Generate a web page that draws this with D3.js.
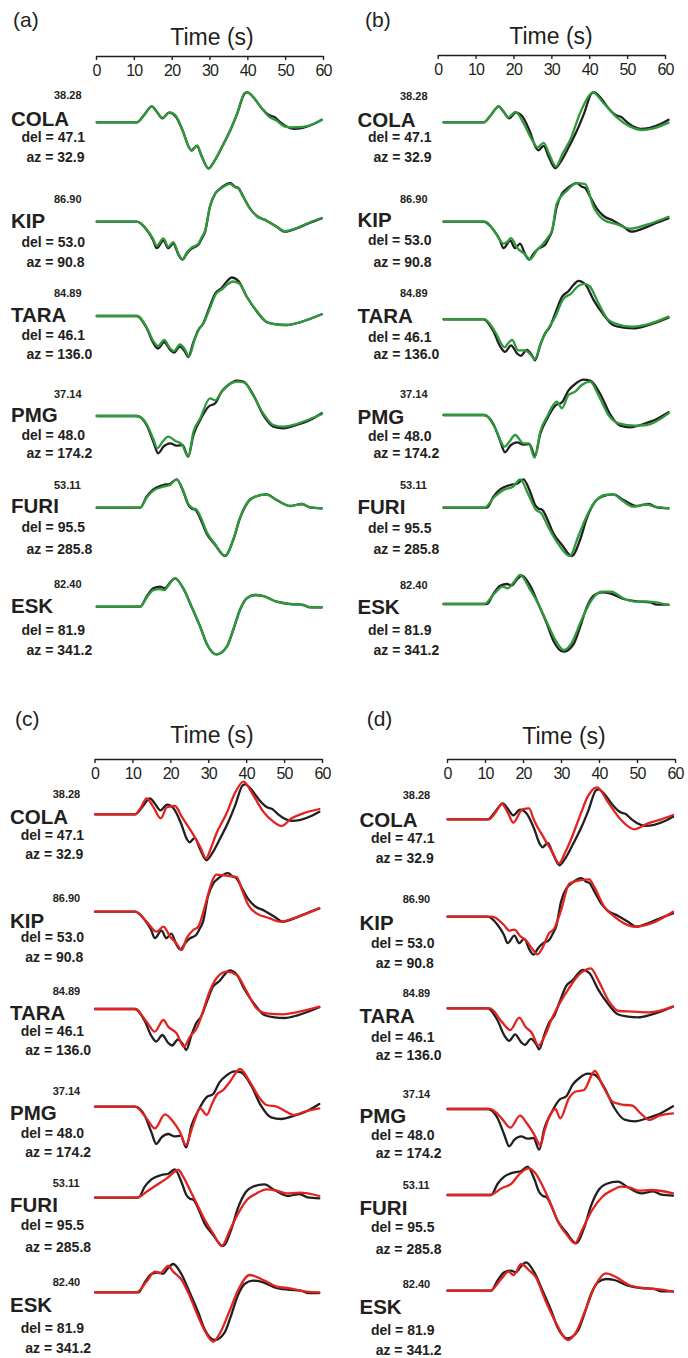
<!DOCTYPE html>
<html>
<head>
<meta charset="utf-8">
<script src="https://cdn.jsdelivr.net/npm/d3@7"></script>
<style>
  html, body { margin: 0; padding: 0; background: #fff; }
  svg { display: block; font-family: "Liberation Sans", Arial, Helvetica, sans-serif; }
</style>
</head>
<body>
<svg id="chart" width="688" height="1358"></svg>
<script>
// Station metadata
const stations  = ["COLA", "KIP", "TARA", "PMG", "FURI", "ESK"];
const peakAmps  = ["38.28", "86.90", "84.89", "37.14", "53.11", "82.40"];
const distances = ["47.1", "53.0", "46.1", "48.0", "95.5", "81.9"];
const azimuths  = ["32.9", "90.8", "136.0", "174.2", "285.8", "341.2"];
const timeTicks = [0, 10, 20, 30, 40, 50, 60];
const panelTags = ["(a)", "(b)", "(c)", "(d)"];

// Observed waveforms: [time (s), normalised amplitude]
const observed = [
  [[0,0],[10.7,0],[12.6,7],[14.7,16],[16,10.7],[17.5,4],[19.3,9.7],[21,6],[23,-9],[24.6,-25],[25.3,-28],[26.7,-23.5],[28,-34],[29.8,-46],[31.5,-38],[33.5,-24],[35.5,-9],[37.5,9],[39.5,29],[40.2,30],[42,24],[44,14],[46,7],[47.3,5.5],[49,0],[50.5,-4],[52.5,-6.5],[55,-5.5],[58,-1.5],[60,2.5]],
  [[0,0],[10.7,0],[13.3,-8],[15,-18],[16,-26.5],[17.8,-19],[19.1,-26.5],[20.4,-22],[21.8,-33],[22.9,-38],[24,-32],[25.3,-27],[27.1,-23],[28,-17],[28.9,-10],[30.2,15],[31.6,28],[32.9,33],[35.6,38.5],[36.9,35],[37.8,33.5],[39.1,25],[40.9,13],[42.7,5.7],[45.3,1],[48,-5],[50.2,-10],[53.3,-6.7],[56.9,-1],[60,3.3]],
  [[0,0],[10.7,0],[13.3,-12],[15.1,-27],[16.4,-32.5],[18,-26],[19.6,-34],[20.6,-36.5],[22.2,-30.5],[23.6,-36],[24.4,-41],[25.8,-26],[27.1,-14],[28.4,-7.5],[29.8,6],[31.6,22.5],[33.3,28],[34.7,34.5],[36,38.5],[37.8,35],[40,19.5],[42.7,4.5],[45.3,-6],[48,-8.3],[50.7,-9],[54.2,-6.3],[60,1.7]],
  [[0,0],[10.7,0],[13.3,-9],[15.1,-25.7],[16.4,-37.3],[17.8,-30.7],[19.6,-27.3],[21.3,-29.7],[22.9,-29],[24.4,-40.7],[25.8,-19],[27.6,-4],[29.8,9.3],[31.6,12.7],[33.3,24.3],[35.1,31],[37.3,35.3],[39.1,34.3],[41.8,21],[44.4,1],[47.1,-10.7],[49.8,-12.3],[53.3,-9],[56.9,-4],[60,2.7]],
  [[0,0],[11.6,0],[13.3,11],[15.1,18.3],[17.8,22.7],[19.6,24],[21.3,28.3],[23.1,16],[24.4,3],[25.4,-1],[26.3,-2],[27.6,-10.7],[29.3,-25.7],[31.6,-37.3],[34.2,-48.3],[36.4,-32.3],[38.2,-10.7],[40.4,6],[42.2,11],[45.3,13.3],[48,7.7],[51.6,1.7],[54.7,3.7],[56.9,0.3],[60,-0.7]],
  [[0,0],[11.6,0],[13.3,10],[15.1,18.3],[16.9,20],[18.2,18.5],[19.5,24],[20.9,28.3],[23.1,18.3],[25.3,0],[27.6,-20],[29.3,-36.7],[32,-47.7],[34.7,-40],[36.4,-23.3],[38.2,-3.3],[40,8.3],[42.2,11.7],[44.4,10.7],[48,5],[51.6,2.7],[55.1,1.7],[56.9,-0.7],[60,-0.7]]
];

// Synthetic waveforms, model (a)
const synthA = [
  [[0,0],[10.7,0],[12.6,7],[14.7,16],[16,10.5],[17.5,4.5],[19.5,10],[21,7],[23,-9],[24.6,-25],[25.3,-28.5],[26.8,-23],[28,-34],[29.8,-46.5],[31.5,-38],[33.5,-24],[35.5,-9],[37.5,9.5],[39.5,29.5],[40.2,30],[42,24],[44,14],[46,5.5],[48,1.5],[50,-4],[52,-5],[55,-4.5],[58,-1.5],[60,2.3]],
  [[0,0],[10.7,0],[13.3,-7.5],[15,-17],[16,-24],[17.8,-16.7],[19.1,-25],[20.4,-20.5],[21.8,-32],[22.9,-37.5],[24,-31],[25.3,-26],[27.1,-22],[28,-15.5],[28.9,-9],[30.2,15.5],[31.6,28],[32.9,32.5],[35.6,37.5],[36.9,34.5],[37.8,33],[39.1,24.5],[40.9,13],[42.7,5.7],[45.3,1],[48,-5],[50.2,-9.5],[53.3,-6.3],[56.9,-0.5],[60,3.7]],
  [[0,0],[10.7,0],[13.3,-11],[15.1,-25],[16.4,-30],[18,-24],[19.6,-32.5],[20.6,-35],[22.2,-28.5],[23.6,-34],[24.6,-40.5],[26,-25],[27.3,-13],[28.6,-6.5],[30,6],[31.8,22],[33.5,27],[35,32],[36.3,34.5],[38,32.5],[40.2,18],[43,3.5],[45.5,-6.5],[48,-8.5],[50.7,-9],[54.2,-6.3],[60,1.7]],
  [[0,0],[10.7,0],[13.3,-8],[15.1,-23],[16.2,-32.3],[17.5,-26],[19.1,-20.7],[21,-25],[22.7,-28.3],[24.4,-40.7],[25.8,-15.7],[27.6,-2.3],[30.2,17.7],[31.6,15.7],[33.3,24.3],[35.3,31.5],[37.5,34.3],[39.3,33.5],[41.8,20],[44.4,2.7],[47.1,-9],[49.8,-10.7],[53.3,-8],[56.9,-3],[60,1.7]],
  [[0,0],[11.6,0],[13.3,10],[15.1,17],[17.8,21],[19.6,23],[21.3,28.3],[23.1,17],[24.4,4],[25.6,-0.5],[26.5,-1.5],[27.8,-10],[29.3,-24],[31.6,-36.5],[34.2,-48],[36.4,-32],[38.2,-10],[40.4,6.5],[42.2,11],[45.3,13],[48,7.5],[51.6,1.7],[54.7,3.7],[56.9,0.3],[60,-0.7]],
  [[0,0],[11.6,0],[13.3,9],[15.1,16.5],[16.9,17.5],[18,16.5],[19.5,23],[20.9,28.3],[23.1,18],[25.3,0],[27.6,-20],[29.3,-36.7],[32,-47.7],[34.7,-40],[36.4,-23],[38.2,-3],[40,8.5],[42.2,11.7],[44.4,10.5],[48,5],[51.6,2.7],[55.1,1.7],[56.9,-0.5],[60,-0.7]]
];

// Synthetic waveforms, model (b)
const synthB = [
  [[0,0],[10.8,0],[12.6,7],[14.7,16],[16,10.5],[17.3,5],[19.2,10.5],[21.3,-0.5],[23.6,-17.5],[25.1,-25],[26.7,-20.5],[28.2,-32],[30,-44],[31.8,-31],[33.8,-17.5],[36.4,9],[38.5,25],[39.8,30],[42.7,19],[46.2,5],[49.8,-4.3],[52.9,-7.7],[56,-6],[60,-0.3]],
  [[0,0],[11.1,0],[14.2,-13],[16,-22],[17,-20],[18,-16.5],[19.6,-26],[21.5,-32],[23.1,-37.5],[24.9,-28.5],[26.7,-21.5],[28,-15],[29,-8],[30.2,18],[32.9,31],[35.6,38.5],[37.8,37.5],[40,15],[42.7,2],[46.2,-2.5],[49.8,-7],[54.2,-3],[60,5]],
  [[0,0],[11,0],[13.7,-12],[16.3,-28],[17,-25],[18.3,-20.7],[19.9,-31],[21.7,-31],[23.5,-36.5],[24.3,-40],[26.1,-22],[27.9,-9.5],[29.6,1],[31.9,20],[34.1,26],[35.8,33],[37.6,35.5],[39,33],[41.2,17],[43.8,0],[46.5,-5],[50,-7.3],[54.4,-5],[60,2.7]],
  [[0,0],[11.1,0],[13.8,-13.3],[16.3,-31.7],[17.5,-27],[19.1,-20],[21.3,-28.3],[22.7,-28.3],[24.3,-42.7],[25.8,-16.7],[27.6,-1.7],[30.2,13.3],[31.6,6.7],[33.3,20],[35.1,23.3],[36.9,30],[39.1,33.3],[41.3,20],[44,0],[46.7,-8.3],[51.1,-10.7],[54.2,-10],[60,1.7]],
  [[0,0],[10.9,0],[13.6,11],[16.3,18.3],[18.5,21],[20.5,28.3],[22.5,14.3],[24.7,-2.3],[26.1,-5.7],[27.9,-19],[30.5,-35.7],[33.7,-48.3],[35.9,-29],[38.1,-9],[40.8,7.7],[43,12.7],[45.3,13.3],[47.5,7.7],[50.6,1],[53.8,3.3],[56.4,1],[60,-0.7]],
  [[0,0],[10.9,0],[13.6,10.7],[15.8,17.3],[17.1,15.7],[18.5,20.7],[20.5,29],[22.9,15.7],[25.2,0.7],[27.9,-21],[30.1,-37.7],[32.1,-46],[34.1,-39.3],[36.8,-16],[39.5,4],[42.1,12.3],[44.8,12.3],[47.9,5.7],[51.1,2.3],[54.6,2.3],[60,-1]]
];

// Synthetic waveforms, model (c)
const synthC = [
  [[0,0],[10.7,0],[12.3,7],[13.8,16],[15.5,8],[17.6,-4],[19.2,7],[21.4,8.3],[23.2,-2.3],[25.8,-17.3],[28.1,-32.3],[29.7,-44],[31,-34],[32.5,-19],[35.2,1],[37.4,21],[39.7,32.7],[42.3,19.3],[45,2.7],[47.7,-7.3],[49.9,-11.7],[52.6,-4],[55.7,1],[60,5.3]],
  [[0,0],[10.7,0],[13.8,-10],[16.5,-20],[18.3,-15],[20.1,-25],[21.8,-31.7],[23.2,-38.3],[24.5,-26.7],[26.3,-18.3],[27.6,-15],[29,0],[30.3,18],[31.5,32],[32.5,37],[35.2,36],[37.9,34.5],[39.5,20],[41,6.7],[43.2,-1.7],[46.8,-6.7],[49.5,-10],[53,-6.7],[60,3.3]],
  [[0,0],[10.7,0],[13.8,-12.7],[16,-22.7],[18.3,-11],[19.6,-17.7],[21.8,-24.3],[23.8,-37.7],[25.4,-27.7],[27.2,-19.3],[29,-1],[30.3,14],[32.5,30.7],[35.2,37.3],[37.9,34],[40.6,17.3],[43.2,0.7],[45.9,-4.3],[50.4,-5.3],[53.9,-3.3],[60,2.3]],
  [[0,0],[10.7,0],[13.8,-11.7],[16,-21.7],[18.7,-7.7],[20.9,-15],[22.7,-25],[24.3,-38.3],[25.8,-23.3],[27,-10],[28.1,-1.7],[29.9,-8.3],[31.2,2],[32.5,11.7],[34.3,16.7],[36.1,25],[38.8,37.7],[41.4,25],[44.1,8.3],[45.9,1.7],[48.6,0],[51.2,-5],[53,-8.3],[56.6,-4.3],[60,-1.7]],
  [[0,0],[11.1,0],[13.8,6],[16.5,12.7],[19.2,19.3],[22.3,27.7],[23.6,21],[25.4,7.7],[27.2,-5.7],[29.4,-22.3],[31.6,-35.7],[33.9,-48.3],[36.1,-32.3],[38.3,-15.7],[40.6,-2.3],[43.2,4.3],[45.9,8.3],[48.6,7],[51.2,4.3],[54.8,5],[60,1.7]],
  [[0,0],[11.1,0],[13.8,10.7],[16,20.7],[17.4,19],[19.6,26.3],[20.9,20.7],[23.2,12.3],[25.4,-4.3],[27.6,-24.3],[29.6,-40],[31.6,-49.3],[33.4,-41],[36.1,-17.7],[38.3,2.3],[41.4,17.3],[45,12.3],[48.6,5.7],[52.1,4],[56.6,0.7],[60,0]]
];

// Synthetic waveforms, model (d)
const synthD = [
  [[0,0],[11,0],[12.8,7],[14.5,15.3],[16,7],[17.5,-3.3],[19.9,10],[21.7,11],[23,-0.7],[25.7,-19],[27.8,-32],[29.7,-44],[31.2,-34],[32.8,-20.7],[35.5,6],[37.3,22.7],[39.8,32],[42.6,17.7],[46.2,-0.7],[49.7,-10],[53.3,-4],[56.9,0],[60,4.3]],
  [[0,0],[11.9,0],[15,-8.3],[16.5,-14],[17.8,-13],[19.5,-20],[21,-24],[22.5,-32],[23.9,-37.7],[25.2,-31.7],[27,-16.7],[28.3,-12.3],[30.1,5],[32.4,33],[33.7,35],[35.5,36.5],[37.7,37.3],[39,30],[41.7,10],[44.4,0],[47,-6.7],[49.7,-10],[54.2,-6.7],[60,5]],
  [[0,0],[11.3,0],[14.4,-13.3],[16.7,-21.7],[19.1,-9.3],[20.7,-18.3],[22.5,-25],[24.2,-37.3],[26,-26.7],[27.8,-10],[29.6,3.3],[32.3,20],[34.9,33.3],[38.1,40],[40.3,26.7],[43,6.7],[45.6,-2.7],[49.2,-3.3],[53.7,-4],[60,1.7]],
  [[0,0],[11.3,0],[14.4,-9.3],[16.7,-18.7],[19.3,-6.7],[21.1,-14.3],[22.9,-24.3],[24.7,-36],[25.8,-22],[26.9,-9.3],[28.7,0],[30,-9.3],[32.3,10.7],[34,17.3],[36.3,19],[39.2,38],[41.2,24],[43.9,7.3],[46.1,4.7],[49.2,3.3],[51.4,-4.3],[53.7,-11],[56.3,-6.7],[60,-4.3]],
  [[0,0],[11.3,0],[14.4,6.7],[17.1,11.7],[19.3,21.7],[21.6,26.7],[23.4,21.7],[25.6,6.7],[27.4,-8.3],[29.6,-28.3],[31.8,-40],[33.9,-48.3],[35.8,-35],[38.5,-15],[41.2,-1.7],[43.9,5],[46.1,8.3],[48.3,7.7],[51,4.3],[54.1,5],[60,1.7]],
  [[0,0],[11.3,0],[14.4,12.3],[16.2,19],[17.6,15.7],[19.6,26.7],[21.6,20.7],[23.4,14],[26,-9.3],[28.7,-31],[32.1,-49.3],[34,-42.7],[36.7,-19.3],[39.4,5.7],[42.1,17.3],[44.7,14],[48.3,5.7],[52.8,2.3],[56.3,1.3],[60,-1]]
];

// Panel layout (pixels)
const panels = [
  { synth: synthA, color: "#2e9a3c", tag: [13, 27], title: [212, 45], axisY: 56, axisX: [96, 323], traceX: [96.7, 321.7],
    rows: [122.3, 221.7, 316, 416, 507.7, 606.7],
    lx: { num: 54, name: 11, del: 21.5, az: 26.5 },
    ly: { num: [98.7, 203, 296.7, 397.7, 489, 588], name: [126, 228, 322, 422, 513, 612.7],
          del: [141.5, 246.7, 340, 440, 531.7, 635], az: [162, 266.7, 359, 458, 554, 655] } },
  { synth: synthB, color: "#2e9a3c", tag: [365, 27], title: [551, 43.5], axisY: 55, axisX: [437.7, 665], traceX: [443.5, 668.5],
    rows: [122.3, 221.7, 319.3, 415, 507.7, 604],
    lx: { num: 400, name: 357.5, del: 368, az: 373.5 },
    ly: { num: [100, 203.3, 296.7, 398.3, 489.3, 589.3], name: [126.7, 226.7, 323.3, 424, 514.3, 614],
          del: [141.8, 245, 341.7, 441, 532.7, 635], az: [162.3, 266.7, 359, 458.3, 554, 655] } },
  { synth: synthC, color: "#e2231f", tag: [15, 726], title: [212, 743.3], axisY: 759, axisX: [94.5, 322], traceX: [95, 319.3],
    rows: [814.3, 911.7, 1009, 1106.7, 1197.7, 1292.3],
    lx: { num: 52.7, name: 10, del: 20.7, az: 25.3 },
    ly: { num: [798, 901.7, 995, 1095, 1187, 1286], name: [823.5, 927.7, 1020, 1120, 1211.7, 1311.7],
          del: [839.5, 942, 1035.7, 1138, 1230, 1333.3], az: [858.5, 962, 1055, 1156.7, 1251.7, 1353.3] } },
  { synth: synthD, color: "#e2231f", tag: [366.7, 726], title: [564, 744], axisY: 759, axisX: [447, 675], traceX: [447.5, 673],
    rows: [819.3, 916.7, 1008.3, 1109, 1195, 1290.7],
    lx: { num: 402.7, name: 359.5, del: 371, az: 375.7 },
    ly: { num: [799, 902.7, 996.7, 1098.3, 1189.3, 1288.3], name: [826.7, 930, 1023.3, 1123.3, 1215, 1314],
          del: [842.5, 947.7, 1041.7, 1140, 1231.7, 1335], az: [862.7, 967.7, 1060, 1158.3, 1254, 1355] } }
];

const ink = "#231f20";
const svg = d3.select("#chart");
const ampScale = d3.scaleLinear().domain([-50, 50]).range([50, -50]);

panels.forEach((p, pi) => {
  const g = svg.append("g");

  // panel tag
  g.append("text")
    .attr("x", p.tag[0]).attr("y", p.tag[1])
    .attr("font-size", 21).attr("fill", ink)
    .text(panelTags[pi]);

  // time axis
  const axisScale = d3.scaleLinear().domain([0, 60]).range(p.axisX);
  const axis = d3.axisBottom(axisScale).tickValues(timeTicks).tickSize(4).tickSizeOuter(0).tickPadding(5);
  const ag = g.append("g").attr("transform", `translate(0,${p.axisY})`).call(axis);
  ag.attr("font-family", null).attr("font-size", null);
  ag.select(".domain").attr("stroke", ink).attr("stroke-width", 1.4);
  ag.selectAll(".tick line").attr("stroke", ink).attr("stroke-width", 1.4);
  ag.selectAll(".tick text")
    .attr("fill", ink).attr("font-size", 16).attr("letter-spacing", -0.8);

  g.append("text")
    .attr("x", p.title[0]).attr("y", p.title[1])
    .attr("text-anchor", "middle")
    .attr("font-size", 23).attr("fill", ink)
    .text("Time (s)");

  // waveforms
  const timeScale = d3.scaleLinear().domain([0, 60]).range(p.traceX);
  const line = d3.line()
    .x(d => timeScale(d[0]))
    .y(d => ampScale(d[1]))
    .curve(d3.curveMonotoneX);

  stations.forEach((name, i) => {
    const row = g.append("g").attr("transform", `translate(0,${p.rows[i]})`);
    row.append("path")
      .attr("d", line(observed[i]))
      .attr("fill", "none").attr("stroke", ink)
      .attr("stroke-width", 2.3).attr("stroke-linejoin", "round").attr("stroke-linecap", "round");
    row.append("path")
      .attr("d", line(p.synth[i]))
      .attr("fill", "none").attr("stroke", p.color)
      .attr("stroke-width", 2.3).attr("stroke-linejoin", "round").attr("stroke-linecap", "round");

    // station labels
    g.append("text").attr("x", p.lx.num).attr("y", p.ly.num[i])
      .attr("font-size", 11).attr("font-weight", "bold").attr("fill", ink).text(peakAmps[i]);
    g.append("text").attr("x", p.lx.name).attr("y", p.ly.name[i])
      .attr("font-size", 20.5).attr("font-weight", "bold").attr("fill", ink).text(name);
    g.append("text").attr("x", p.lx.del).attr("y", p.ly.del[i])
      .attr("font-size", 14).attr("font-weight", "bold").attr("fill", ink).text(`del = ${distances[i]}`);
    g.append("text").attr("x", p.lx.az).attr("y", p.ly.az[i])
      .attr("font-size", 14).attr("font-weight", "bold").attr("fill", ink).text(`az = ${azimuths[i]}`);
  });
});
</script>
</body>
</html>
